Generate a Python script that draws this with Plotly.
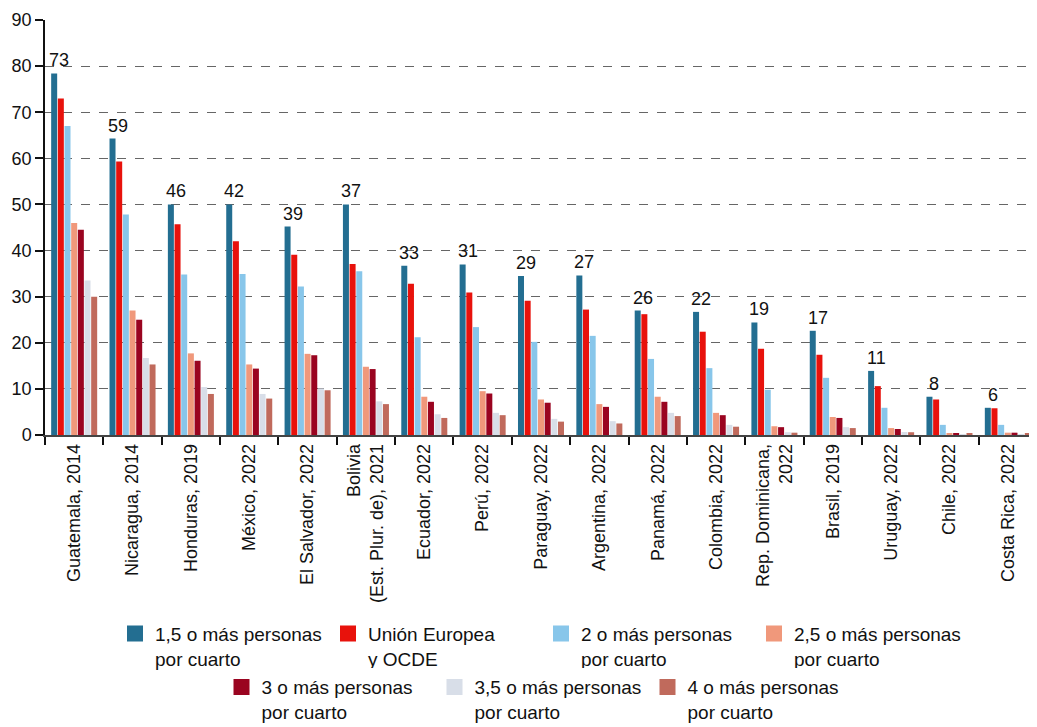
import plotly.graph_objects as go

categories = [
    "Guatemala, 2014", "Nicaragua, 2014", "Honduras, 2019", "México, 2022",
    "El Salvador, 2022", "Bolivia<br>(Est. Plur. de), 2021", "Ecuador, 2022",
    "Perú, 2022", "Paraguay, 2022", "Argentina, 2022", "Panamá, 2022",
    "Colombia, 2022", "Rep. Dominicana,<br>2022", "Brasil, 2019",
    "Uruguay, 2022", "Chile, 2022", "Costa Rica, 2022",
]

s15 = [78.4, 64.3, 50.0, 50.0, 45.2, 50.0, 36.7, 37.0, 34.5, 34.6, 27.0, 26.7, 24.4, 22.6, 13.9, 8.3, 5.9]
eu_ocde = [73.0, 59.3, 45.7, 42.0, 39.1, 37.1, 32.8, 30.9, 29.1, 27.2, 26.2, 22.4, 18.7, 17.4, 10.6, 7.7, 5.8]
s20 = [67.0, 47.8, 34.8, 34.9, 32.2, 35.5, 21.2, 23.4, 20.2, 21.5, 16.5, 14.5, 9.8, 12.4, 5.9, 2.2, 2.2]
s25 = [46.0, 27.0, 17.7, 15.3, 17.6, 14.8, 8.3, 9.5, 7.7, 6.7, 8.3, 4.8, 1.9, 3.9, 1.5, 0.4, 0.5]
s30 = [44.5, 25.0, 16.1, 14.4, 17.3, 14.3, 7.2, 9.0, 7.0, 6.1, 7.2, 4.3, 1.7, 3.7, 1.3, 0.35, 0.5]
s35 = [33.5, 16.7, 10.4, 8.9, 10.1, 7.3, 4.5, 4.8, 3.5, 3.0, 4.8, 2.2, 0.6, 1.7, 0.65, 0.2, 0.2]
s40 = [30.0, 15.3, 8.9, 7.9, 9.7, 6.7, 3.7, 4.3, 2.9, 2.5, 4.1, 1.8, 0.5, 1.5, 0.6, 0.3, 0.3]

series_names = [
    "1,5 o más personas<br>por cuarto",
    "Unión Europea<br>y OCDE",
    "2 o más personas<br>por cuarto",
    "2,5 o más personas<br>por cuarto",
    "3 o más personas<br>por cuarto",
    "3,5 o más personas<br>por cuarto",
    "4 o más personas<br>por cuarto",
]
series_values = [s15, eu_ocde, s20, s25, s30, s35, s40]
colors = ["#236e91", "#e8120c", "#88c6ea", "#f0987b", "#9a0420", "#d8dee8", "#c06a5c"]
legend_ids = ["legend", "legend", "legend", "legend", "legend2", "legend2", "legend2"]

FONT = "Liberation Sans, Arial, sans-serif"

fig = go.Figure()
for name, vals, col, lg in zip(series_names, series_values, colors, legend_ids):
    fig.add_trace(go.Bar(
        x=categories, y=vals, name=name, marker=dict(color=col, line=dict(width=0)),
        showlegend=False, legendgroup=name, hoverinfo="x+y",
    ))
for name, col, lg in zip(series_names, colors, legend_ids):
    fig.add_trace(go.Scatter(
        x=[None], y=[None], mode="markers", name=name, legendgroup=name,
        marker=dict(symbol="square", size=20, color=col), legend=lg,
    ))

for cat, top, lab in zip(categories, s15, eu_ocde):
    fig.add_annotation(
        x=cat, y=top, text=str(int(round(lab))), showarrow=False,
        xanchor="center", yanchor="bottom", xshift=-15, yshift=1,
        font=dict(family=FONT, size=18, color="#111111"),
    )

fig.update_layout(
    width=1029, height=719,
    margin=dict(l=37, r=0, t=12, b=292, autoexpand=False),
    paper_bgcolor="white", plot_bgcolor="white",
    font=dict(family=FONT, size=18, color="#111111"),
    barmode="group", bargap=0.2, bargroupgap=0.1,
    legend=dict(orientation="h", x=0.5, xanchor="center", y=-0.433, yanchor="top",
                valign="top", font=dict(family=FONT, size=19, color="#111111"),
                entrywidth=168, itemclick=False, itemdoubleclick=False, tracegroupgap=0),
    legend2=dict(orientation="h", x=0.5, xanchor="center", y=-0.562, yanchor="top",
                 valign="top", font=dict(family=FONT, size=19, color="#111111"),
                 entrywidth=168, itemclick=False, itemdoubleclick=False, tracegroupgap=0),
)
fig.update_yaxes(
    range=[0, 90], dtick=10, showline=True, linecolor="#111111", linewidth=1.5,
    ticks="outside", ticklen=8, tickcolor="#111111", tickwidth=1.5,
    showgrid=True, gridcolor="#666666", gridwidth=1.2, griddash="dash",
    zeroline=False, tickfont=dict(family=FONT, size=18, color="#111111"),
    automargin=False,
)
fig.update_xaxes(
    type="category", tickangle=-90, showline=True, linecolor="#444444", linewidth=1.5,
    ticks="outside", ticklen=8, tickcolor="#111111", tickwidth=1.5, tickson="boundaries",
    showgrid=False, tickfont=dict(family=FONT, size=18, color="#111111"),
    automargin=False,
)

fig.write_html("out.html")
